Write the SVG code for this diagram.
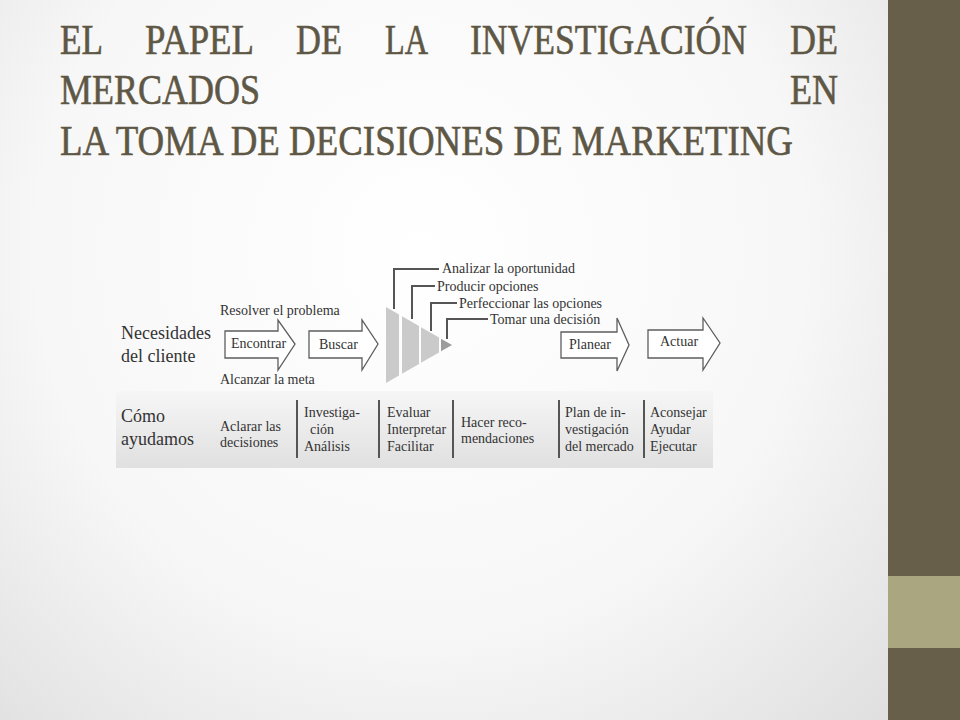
<svg xmlns="http://www.w3.org/2000/svg" width="960" height="720" viewBox="0 0 960 720">
<defs>
<radialGradient id="bg" cx="420" cy="250" r="700" gradientUnits="userSpaceOnUse">
<stop offset="0" stop-color="#ffffff"/>
<stop offset="0.55" stop-color="#f7f7f7"/>
<stop offset="1" stop-color="#dcdcdc"/>
</radialGradient>
<linearGradient id="band" x1="0" y1="0" x2="0" y2="1">
<stop offset="0" stop-color="#f6f6f6"/>
<stop offset="1" stop-color="#e0e0e0"/>
</linearGradient>
<style>
.title{font-family:"Liberation Serif","DejaVu Serif",serif;font-size:43px;fill:#5e5745;stroke:#5e5745;stroke-width:0.6}
.t{font-family:"Liberation Serif","DejaVu Serif",serif;font-size:14px;fill:#333333}
.big{font-family:"Liberation Serif","DejaVu Serif",serif;font-size:18px;fill:#333333}
.arrow{fill:#ffffff;stroke:#5e5e5e;stroke-width:1.3}
.sep{stroke:#555555;stroke-width:2}
.lead{fill:none;stroke:#555555;stroke-width:2}
.seg{fill:#cacaca}
</style>
</defs>
<rect width="960" height="720" fill="url(#bg)"/>
<rect x="888" y="0" width="72" height="720" fill="#675f4a"/>
<rect x="888" y="576" width="72" height="72" fill="#aaa780"/>

<g id="title">
<text class="title" x="60" y="54" textLength="43" lengthAdjust="spacingAndGlyphs">EL</text>
<text class="title" x="145" y="54" textLength="109" lengthAdjust="spacingAndGlyphs">PAPEL</text>
<text class="title" x="296" y="54" textLength="46" lengthAdjust="spacingAndGlyphs">DE</text>
<text class="title" x="385" y="54" textLength="43" lengthAdjust="spacingAndGlyphs">LA</text>
<text class="title" x="470" y="54" textLength="277" lengthAdjust="spacingAndGlyphs">INVESTIGACIÓN</text>
<text class="title" x="790" y="54" textLength="48" lengthAdjust="spacingAndGlyphs">DE</text>
<text class="title" x="60" y="104" textLength="200" lengthAdjust="spacingAndGlyphs">MERCADOS</text>
<text class="title" x="790" y="104" textLength="48" lengthAdjust="spacingAndGlyphs">EN</text>
<text class="title" x="60" y="155" textLength="733" lengthAdjust="spacingAndGlyphs">LA TOMA DE DECISIONES DE MARKETING</text>
</g>

<rect id="band-bg" x="116" y="391" width="597" height="77" fill="url(#band)"/>

<g id="necesidades">
<text class="big" x="121" y="339">Necesidades</text>
<text class="big" x="121" y="362">del cliente</text>
</g>

<g id="encontrar">
<text class="t" x="220" y="315">Resolver el problema</text>
<path class="arrow" d="M225,331 H278 V320 L295,344 L278,370 V358 H225 Z"/>
<text class="t" x="231" y="348">Encontrar</text>
<text class="t" x="220" y="384">Alcanzar la meta</text>
</g>

<g id="buscar">
<path class="arrow" d="M309,331 H362 V320 L378,344 L362,370 V358 H309 Z"/>
<text class="t" x="319" y="349">Buscar</text>
</g>

<g id="embudo">
<polygon class="seg" points="386,307 399,314.5 399,375.5 386,383"/>
<polygon class="seg" points="402,316.2 419,326 419,364 402,373.8"/>
<polygon class="seg" points="421,327.2 439,337.5 439,352.5 421,362.8"/>
<polygon fill="#9c9c9c" points="441,338.7 452,345 441,351.3"/>
</g>

<g id="conectores">
<path class="lead" d="M394,309 V269 H439"/>
<path class="lead" d="M412,319 V286 H435"/>
<path class="lead" d="M431,331 V303 H457"/>
<path class="lead" d="M447,339 V319 H488"/>
</g>

<g id="etiquetas-decision">
<text class="t" x="442" y="273">Analizar la oportunidad</text>
<text class="t" x="437" y="291">Producir opciones</text>
<text class="t" x="459" y="308">Perfeccionar las opciones</text>
<text class="t" x="490" y="324">Tomar una decisión</text>
</g>

<g id="planear">
<path class="arrow" d="M561,332 H617 V318 L629,345 L617,371 V358 H561 Z"/>
<text class="t" x="569" y="349">Planear</text>
</g>

<g id="actuar">
<path class="arrow" d="M648,330 H703 V318 L720,343 L703,370 V358 H648 Z"/>
<text class="t" x="660" y="346">Actuar</text>
</g>

<g id="como-ayudamos">
<text class="big" x="121" y="422">Cómo</text>
<text class="big" x="121" y="445">ayudamos</text>
<text class="t" x="220" y="431">Aclarar las</text>
<text class="t" x="220" y="447">decisiones</text>
<line class="sep" x1="297" y1="400" x2="297" y2="458"/>
<text class="t" x="304" y="417">Investiga-</text>
<text class="t" x="310" y="434">ción</text>
<text class="t" x="304" y="451">Análisis</text>
<line class="sep" x1="379" y1="400" x2="379" y2="458"/>
<text class="t" x="387" y="417">Evaluar</text>
<text class="t" x="387" y="434">Interpretar</text>
<text class="t" x="387" y="451">Facilitar</text>
<line class="sep" x1="453" y1="400" x2="453" y2="458"/>
<text class="t" x="461" y="427">Hacer reco-</text>
<text class="t" x="461" y="443">mendaciones</text>
<line class="sep" x1="559" y1="400" x2="559" y2="458"/>
<text class="t" x="565" y="417">Plan de in-</text>
<text class="t" x="565" y="434">vestigación</text>
<text class="t" x="565" y="451">del mercado</text>
<line class="sep" x1="644" y1="400" x2="644" y2="458"/>
<text class="t" x="650" y="417">Aconsejar</text>
<text class="t" x="650" y="434">Ayudar</text>
<text class="t" x="650" y="451">Ejecutar</text>
</g>
</svg>
